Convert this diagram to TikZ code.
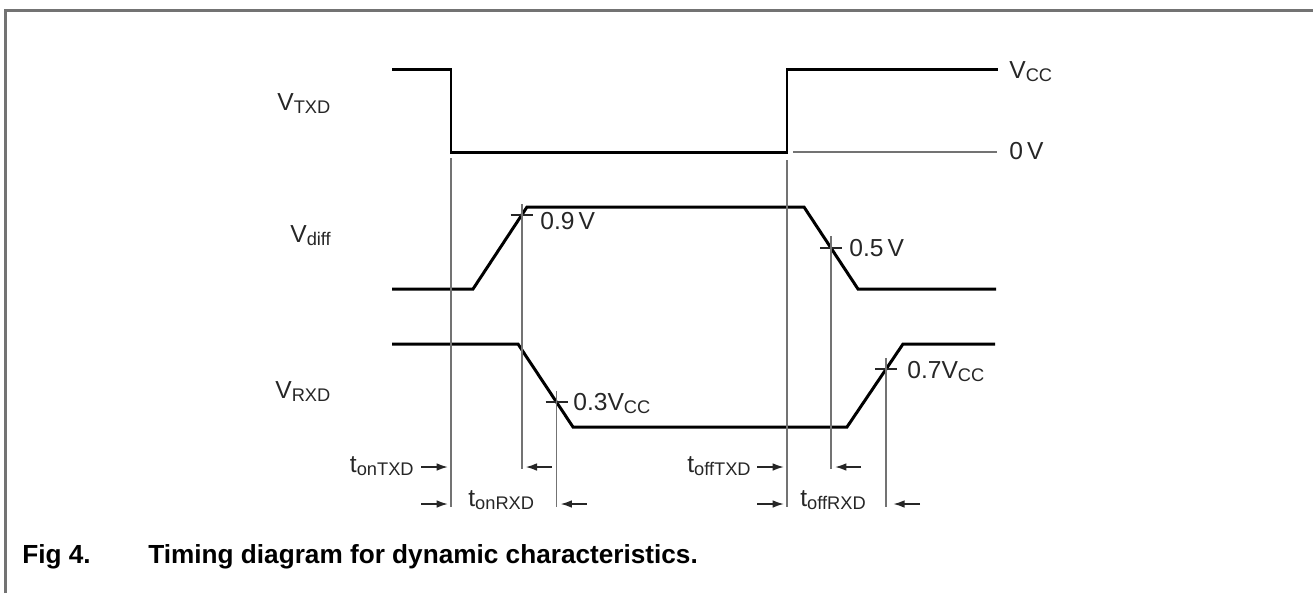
\documentclass[tikz,border=0pt]{standalone}
\usepackage{fontspec}
\setmainfont{Liberation Sans}
\usetikzlibrary{arrows.meta,calc}

\newcommand{\lbl}[2]{#1\raisebox{-1.8pt}{\fontsize{10.4}{12}\selectfont #2}}

\begin{document}
\begin{tikzpicture}[x=0.02cm, y=-0.02cm,
    sig/.style={line width=1.7pt, black},
    guide/.style={line width=1.1pt, black!55},
    tickmark/.style={line width=0.9pt, black!85},
    dimarrow/.style={line width=1pt, black!85, -{Latex[length=6.5pt,width=4.4pt]}},
    txt/.style={inner sep=0pt, font=\fontsize{14}{16}\selectfont, text=black!85}]
  \useasboundingbox (0,0) rectangle (1313,593);
  % frame
  \draw[line width=1.7pt, black!55] (5.5,593) -- (5.5,10.5) -- (1313,10.5);

  % rows for the timing arrows
  \coordinate (rowa) at (0,467);
  \coordinate (rowb) at (0,504);
  \coordinate (enda) at (0,469);
  \coordinate (endb) at (0,507);

  % signals
  \draw[sig] (392,69) -- (451,69) -- (451,152) coordinate (fall)
    -- (787,152) coordinate (rise) -- (787,69) -- (998,69);
  \draw[guide] (793,152) -- (997,152);
  \draw[sig] (392,289) -- (473,289) -- coordinate[pos=0.9] (p09) (527,207)
    -- (804,207) -- coordinate[pos=0.5] (p05) (858,289) -- (996,289);
  \draw[sig] (392,344) -- (518,344) -- coordinate[pos=0.7] (p03) (573,427)
    -- (847,427) -- coordinate[pos=0.7] (p07) (903,344) -- (995,344);

  % threshold marks
  \foreach \p in {p09,p05,p03,p07}
    \draw[tickmark] (\p) +(-11,0) -- +(11,0);

  % guide lines
  \draw[guide] (fall) ++(0,6) -- (fall |- endb);
  \draw[guide] (rise) ++(0,8) -- (rise |- endb);
  \draw[guide] (p09) ++(0,-11) -- (p09 |- enda);
  \draw[guide] (p05) ++(0,-12) -- (p05 |- enda);
  \draw[guide] (p03) ++(0,-11) -- (p03 |- endb);
  \draw[guide] (p07) ++(0,-11) -- (p07 |- endb);

  % timing arrows
  \draw[dimarrow] ($(fall |- rowa)+(-30,0)$) -- ($(fall |- rowa)+(-3,0)$);
  \draw[dimarrow] ($(fall |- rowb)+(-30,0)$) -- ($(fall |- rowb)+(-3,0)$);
  \draw[dimarrow] ($(p09 |- rowa)+(30,0)$) -- ($(p09 |- rowa)+(4,0)$);
  \draw[dimarrow] ($(p03 |- rowb)+(30,0)$) -- ($(p03 |- rowb)+(4,0)$);
  \draw[dimarrow] ($(rise |- rowa)+(-30,0)$) -- ($(rise |- rowa)+(-3,0)$);
  \draw[dimarrow] ($(rise |- rowb)+(-30,0)$) -- ($(rise |- rowb)+(-3,0)$);
  \draw[dimarrow] ($(p05 |- rowa)+(30,0)$) -- ($(p05 |- rowa)+(4,0)$);
  \draw[dimarrow] ($(p07 |- rowb)+(34,0)$) -- ($(p07 |- rowb)+(7,0)$);

  % signal names
  \node[txt, anchor=base west] (vtxd) at (277,110) {\lbl{V}{TXD}};
  \node[txt, anchor=base west] (vdiff) at (290,242) {\lbl{V}{diff}};
  \node[txt, anchor=base west] (vrxd) at (275,398) {\lbl{V}{RXD}};
  \node[txt, anchor=base west] (vcc) at (1009,78) {\lbl{V}{CC}};
  \node[txt, anchor=base west] (zero) at (1009,159) {0\,V};

  % threshold levels
  \node[txt, anchor=base west] (l09) at (540,229) {0.9\,V};
  \node[txt, anchor=base west] (l05) at (849,256) {0.5\,V};
  \node[txt, anchor=base west] (l03) at (573,410) {\lbl{0.3V}{CC}};
  \node[txt, anchor=base west] (l07) at (907,378) {\lbl{0.7V}{CC}};

  % timing names
  \node[txt, anchor=base east] (tontxd) at (414,472) {\lbl{t}{onTXD}};
  \node[txt, anchor=base west] (tonrxd) at (468,506) {\lbl{t}{onRXD}};
  \node[txt, anchor=base east] (tofftxd) at (751,472) {\lbl{t}{offTXD}};
  \node[txt, anchor=base west] (toffrxd) at (800,506) {\lbl{t}{offRXD}};

  % caption
  \node[txt, anchor=base west, font=\fontsize{14.9}{17}\selectfont\bfseries, text=black] (fig) at (22,563) {Fig 4.};
  \node[txt, anchor=base west, font=\fontsize{14.9}{17}\selectfont\bfseries, text=black] (cap) at (148,563) {Timing diagram for dynamic characteristics.};
\end{tikzpicture}
\end{document}
